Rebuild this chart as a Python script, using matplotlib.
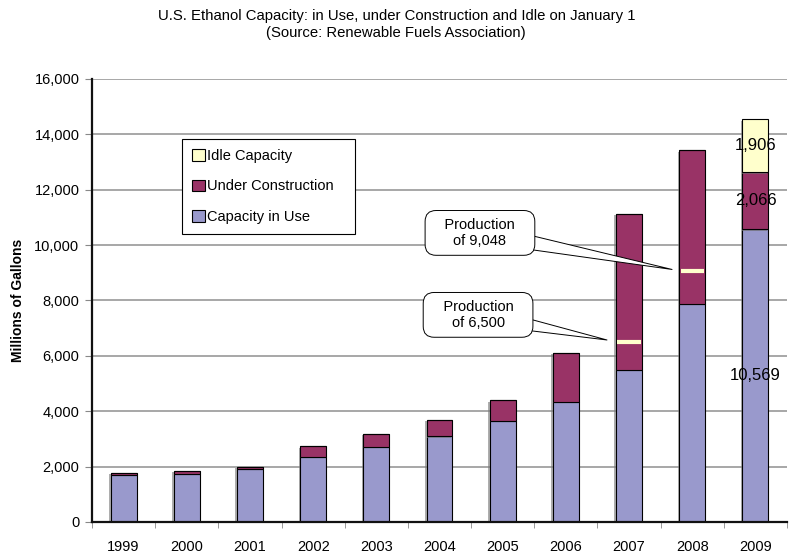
import matplotlib.pyplot as plt
import matplotlib.patheffects as pe
from matplotlib.ticker import FuncFormatter, MultipleLocator
import numpy as np

plt.rcParams['font.family'] = ['Liberation Sans', 'DejaVu Sans']

# capacity on January 1, millions of gallons
years = ['1999', '2000', '2001', '2002', '2003', '2004', '2005', '2006', '2007', '2008', '2009']
in_use = [1702, 1749, 1922, 2347, 2707, 3101, 3644, 4336, 5493, 7888, 10569]
under_construction = [77, 92, 65, 391, 483, 598, 754, 1778, 5636, 5536, 2066]
idle = [0, 0, 0, 0, 0, 0, 0, 0, 0, 0, 1906]

# production markers
prod_years = ['2007', '2008']
prod_values = [6500, 9048]

c_use = '#9999CC'
c_cons = '#993366'
c_idle = '#FFFFCC'

fig = plt.figure(figsize=(7.91, 5.6), dpi=100)
ax = fig.add_axes([0.1163, 0.0679, 0.8787, 0.7911])

x = np.arange(len(years))
w = 0.41
shadow = [pe.SimplePatchShadow(offset=(-1.2, -1), shadow_rgbFace='#777777', alpha=0.6), pe.Normal()]

b1 = ax.bar(x, in_use, w, color=c_use, edgecolor='black', linewidth=0.8, zorder=3)
b2 = ax.bar(x, under_construction, w, bottom=in_use, color=c_cons, edgecolor='black',
            linewidth=0.8, zorder=3)
bottom2 = np.array(in_use) + np.array(under_construction)
b3 = ax.bar(x, idle, w, bottom=bottom2, color=c_idle, edgecolor='black', linewidth=0.8, zorder=3)
for bars in (b1, b2, b3):
    for r in bars:
        if r.get_height() > 0:
            r.set_path_effects(shadow)

# production level within the bars
for yr, v in zip(prod_years, prod_values):
    i = years.index(yr)
    ax.plot([i - w / 2 + 0.02, i + w / 2 - 0.02], [v, v], color='#FFFFCC', lw=3,
            solid_capstyle='butt', zorder=4)

# value labels on 2009 bar
i = len(years) - 1
ax.text(i, in_use[i] / 2, f'{in_use[i]:,}', ha='center', va='center', fontsize=12, zorder=5)
ax.text(i, in_use[i] + under_construction[i] / 2, f'{under_construction[i]:,}',
        ha='center', va='center', fontsize=12, zorder=5)
ax.text(i, bottom2[i] + idle[i] / 2, f'{idle[i]:,}', ha='center', va='center', fontsize=12, zorder=5)

# callouts
callout_box = dict(boxstyle='round,pad=0.5,rounding_size=0.75', fc='white', ec='black', lw=0.7)
wedge = dict(arrowstyle='wedge,tail_width=1.3,shrink_factor=0.5', fc='white', ec='black',
             lw=0.7, patchA=None, shrinkA=0, shrinkB=0)
ax.annotate('   Production   \nof 6,500', xy=(7.65, 6573), xytext=(5.61, 7480),
            ha='center', va='center', fontsize=10.5, bbox=callout_box, zorder=6,
            arrowprops=wedge)
ax.annotate('   Production   \nof 9,048', xy=(8.68, 9120), xytext=(5.64, 10440),
            ha='center', va='center', fontsize=10.5, bbox=callout_box, zorder=6,
            arrowprops=wedge)

ax.set_xlim(-0.5, len(years) - 0.5)
ax.set_ylim(0, 16000)
ax.set_xticks(x)
ax.set_xticklabels(years, fontsize=10.5)
ax.set_xticks(np.arange(-0.5, len(years), 1), minor=True)
ax.tick_params(axis='x', which='major', length=0, pad=13)
ax.tick_params(axis='x', which='minor', length=4, color='#888888', direction='out')
ax.yaxis.set_major_locator(MultipleLocator(2000))
ax.yaxis.set_major_formatter(FuncFormatter(lambda v, p: f'{int(v):,}'))
ax.tick_params(axis='y', labelsize=10.5, length=5, color='#888888', direction='out', pad=4)
ax.grid(axis='y', color='#A0A0A0', lw=1.3, zorder=0)
ax.set_axisbelow(True)
for s in ('top', 'right'):
    ax.spines[s].set_visible(False)
for s in ('left', 'bottom'):
    ax.spines[s].set_linewidth(1.6)
    ax.spines[s].set_color('#111111')
    ax.spines[s].set_zorder(5)

ax.set_ylabel('Millions of Gallons', fontsize=10, fontweight='bold', labelpad=7)

leg = ax.legend([b3[-1], b2[-1], b1[-1]], ['Idle Capacity', 'Under Construction', 'Capacity in Use'],
                loc='upper left', bbox_to_anchor=(0.1295, 0.6646, 0.249, 0.2), mode='expand',
                fontsize=10.5, frameon=True, fancybox=False, edgecolor='black', framealpha=1,
                handlelength=0.85, handleheight=0.85, handletextpad=0.15, labelspacing=1.12,
                borderpad=0.7, borderaxespad=0)
leg.get_frame().set_linewidth(0.8)
leg.set_zorder(6)
for h in leg.legend_handles:
    h.set_path_effects([])

fig.text(0.501, 0.972, 'U.S. Ethanol Capacity: in Use, under Construction and Idle on January 1',
         ha='center', va='center', fontsize=10.7)
fig.text(0.501, 0.941, '(Source: Renewable Fuels Association)', ha='center', va='center', fontsize=10.7)

fig.savefig('out.png', dpi=100)
